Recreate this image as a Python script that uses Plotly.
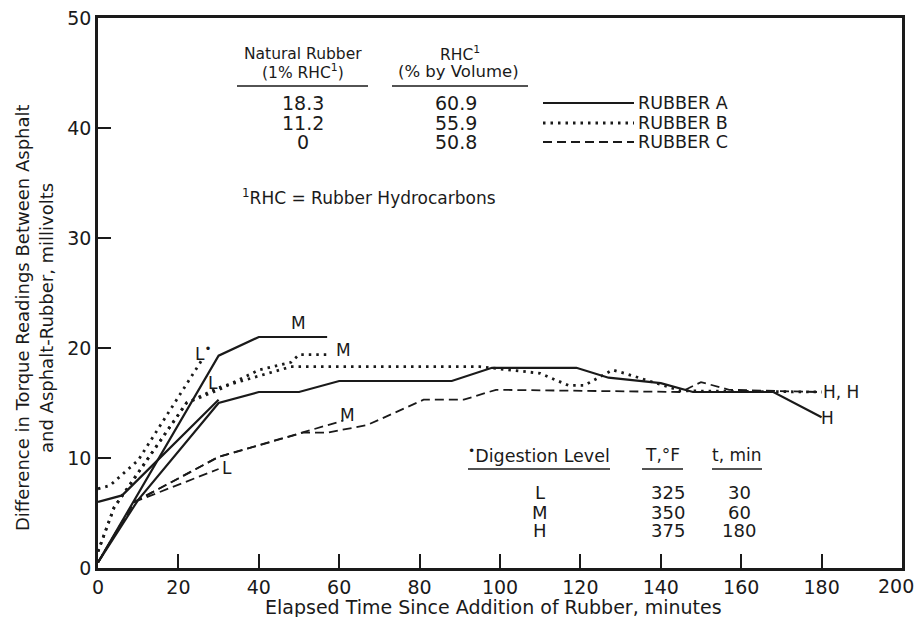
import plotly.graph_objects as go

# ---------------- data ----------------
# Rubber A (solid)
a_l_t = [0, 6, 30]
a_l_v = [6.0, 6.6, 15.3]
a_m_t = [0, 30, 40, 57]
a_m_v = [0.5, 19.3, 21.0, 21.0]
a_h_t = [0, 10, 30, 40, 50, 60, 88, 98, 119, 127, 140, 148, 168, 180]
a_h_v = [0.5, 6.2, 15.0, 16.0, 16.0, 17.0, 17.0, 18.2, 18.2, 17.3, 16.8, 16.0, 16.0, 13.7]

# Rubber B (dotted)
b_l_t = [0, 3, 10, 26]
b_l_v = [7.2, 7.5, 9.8, 19.0]
b_m_t = [0, 4, 22, 30, 40, 48, 50, 58]
b_m_v = [1.5, 5.5, 15.0, 16.2, 18.0, 18.7, 19.4, 19.4]
b_h_t = [0, 4, 22, 30, 48, 95, 100, 110, 117, 121, 128, 131, 145, 180]
b_h_v = [1.5, 5.5, 15.0, 16.4, 18.3, 18.3, 18.1, 17.7, 16.6, 16.6, 18.0, 17.7, 16.1, 16.0]

# Rubber C (dashed)
c_l_t = [0, 9, 30]
c_l_v = [0.5, 6.0, 9.0]
c_m_t = [0, 9, 30, 51, 61]
c_m_v = [0.5, 6.0, 10.1, 12.3, 13.4]
c_h_t = [0, 9, 30, 51, 57, 67, 81, 91, 99, 145, 150, 157, 179]
c_h_v = [0.5, 6.0, 10.1, 12.3, 12.3, 13.0, 15.3, 15.3, 16.2, 16.0, 16.9, 16.2, 16.0]

x_ticks = [0, 20, 40, 60, 80, 100, 120, 140, 160, 180, 200]
y_ticks = [0, 10, 20, 30, 40, 50]

rubber_names = ["RUBBER A", "RUBBER B", "RUBBER C"]
natural_rubber = ["18.3", "11.2", "0"]
rhc_pct = ["60.9", "55.9", "50.8"]
levels = ["L", "M", "H"]
temps_f = ["325", "350", "375"]
times_min = ["30", "60", "180"]

# ---------------- figure ----------------
W, H = 915, 617
L, R, T, B = 98, 13, 18, 49
PW, PH = W - L - R, H - T - B
INK = "#1a1a1a"
FONT = "DejaVu Sans"


def px(x):
    return (x - L) / PW


def py(y):
    return (H - B - y) / PH


solid = dict(color=INK, width=2.2)
dotted = dict(color=INK, width=2.8, dash="2.5px,5px")
dashed = dict(color=INK, width=1.8, dash="9px,5px")

fig = go.Figure()
series = [
    (a_l_t, a_l_v, solid), (a_m_t, a_m_v, solid), (a_h_t, a_h_v, solid),
    (b_l_t, b_l_v, dotted), (b_m_t, b_m_v, dotted), (b_h_t, b_h_v, dotted),
    (c_l_t, c_l_v, dashed), (c_m_t, c_m_v, dashed), (c_h_t, c_h_v, dashed),
]
for t, v, ln in series:
    fig.add_trace(go.Scatter(x=t, y=v, mode="lines", line=ln,
                             showlegend=False, hoverinfo="skip"))

ann = []


def text(x, y, s, size=16, xanchor="center", angle=0):
    ann.append(dict(x=px(x), y=py(y), xref="paper", yref="paper", text=s,
                    showarrow=False, xanchor=xanchor, yanchor="middle",
                    textangle=angle, font=dict(family=FONT, size=size, color=INK)))


shapes = []


def hline(x0, x1, y, dash="solid", width=1.6):
    shapes.append(dict(type="line", xref="paper", yref="paper",
                       x0=px(x0), x1=px(x1), y0=py(y), y1=py(y),
                       line=dict(color=INK, width=width, dash=dash)))


# Curve labels
text(298, 323, "M", 17)
text(203, 353, "L<sup>•</sup>", 17)
text(213, 383, "L", 17)
text(343, 350, "M", 17)
text(347, 415, "M", 17)
text(227, 468, "L", 17)
text(821, 392, "H, H", 17, xanchor="left")
text(819, 418, "H", 17, xanchor="left")

# Top table
text(303, 54, "Natural Rubber", 15.5)
text(303, 72, "(1% RHC<sup>1</sup>)", 15.5)
text(460, 54, "RHC<sup>1</sup>", 15.5)
text(458, 72, "(% by Volume)", 16.5)
hline(237, 368, 86)
hline(392, 528, 86)
row_y = [103, 123, 142]
for i in range(3):
    text(303, row_y[i], natural_rubber[i], 19)
    text(456, row_y[i], rhc_pct[i], 19)
    text(636, row_y[i], rubber_names[i], 17.5, xanchor="left")
hline(543, 634, row_y[0], "solid", 2.2)
hline(543, 634, row_y[1], "2.5px,5px", 2.8)
hline(543, 634, row_y[2], "9px,5px", 1.8)
text(240, 197, "<sup>1</sup>RHC = Rubber Hydrocarbons", 17, xanchor="left")

# Digestion table
text(539, 455, "<sup>•</sup>Digestion Level", 17.5)
text(662, 455, "T,°F", 17)
text(737, 455, "t, min", 17)
hline(468, 610, 469)
hline(642, 683, 469)
hline(712, 762, 469)
dig_y = [492, 512, 530]
for i in range(3):
    text(540, dig_y[i], levels[i], 18)
    text(668, dig_y[i], temps_f[i], 18)
    text(739, dig_y[i], times_min[i], 18)

# Axis titles
text(22, 318, "Difference in Torque Readings Between Asphalt", 18, angle=-90)
text(46, 318, "and Asphalt-Rubber, millivolts", 18, angle=-90)
text(493, 607, "Elapsed Time Since Addition of Rubber, minutes", 19)

# last x tick label drawn just inside the page edge (as in the reference)
x_ticktext = [str(v) for v in x_ticks]
x_ticktext[-1] = ""
text(896, 586, str(x_ticks[-1]), 19)

fig.update_layout(
    width=W, height=H,
    margin=dict(l=L, r=R, t=T, b=B, pad=0, autoexpand=False),
    paper_bgcolor="white", plot_bgcolor="white",
    font=dict(family=FONT, color=INK),
    annotations=ann, shapes=shapes,
    showlegend=False,
)
fig.update_xaxes(range=[0, 200], tickvals=x_ticks, ticktext=x_ticktext,
                 ticks="inside", ticklen=14, tickwidth=1.6, tickcolor=INK,
                 showline=True, linecolor=INK, linewidth=2.6, mirror=True,
                 showgrid=False, zeroline=False, automargin=False,
                 ticklabeloverflow="allow",
                 tickfont=dict(family=FONT, size=19, color=INK))
fig.update_yaxes(range=[0, 50], tickvals=y_ticks, ticktext=[str(v) for v in y_ticks],
                 ticks="inside", ticklen=13, tickwidth=1.6, tickcolor=INK,
                 showline=True, linecolor=INK, linewidth=2.6, mirror=True,
                 showgrid=False, zeroline=False, automargin=False,
                 ticklabeloverflow="allow",
                 tickfont=dict(family=FONT, size=19, color=INK))

fig.write_html("out.html", config={"displayModeBar": False},
               post_script="document.body.style.margin='0';document.body.style.overflow='hidden';")
